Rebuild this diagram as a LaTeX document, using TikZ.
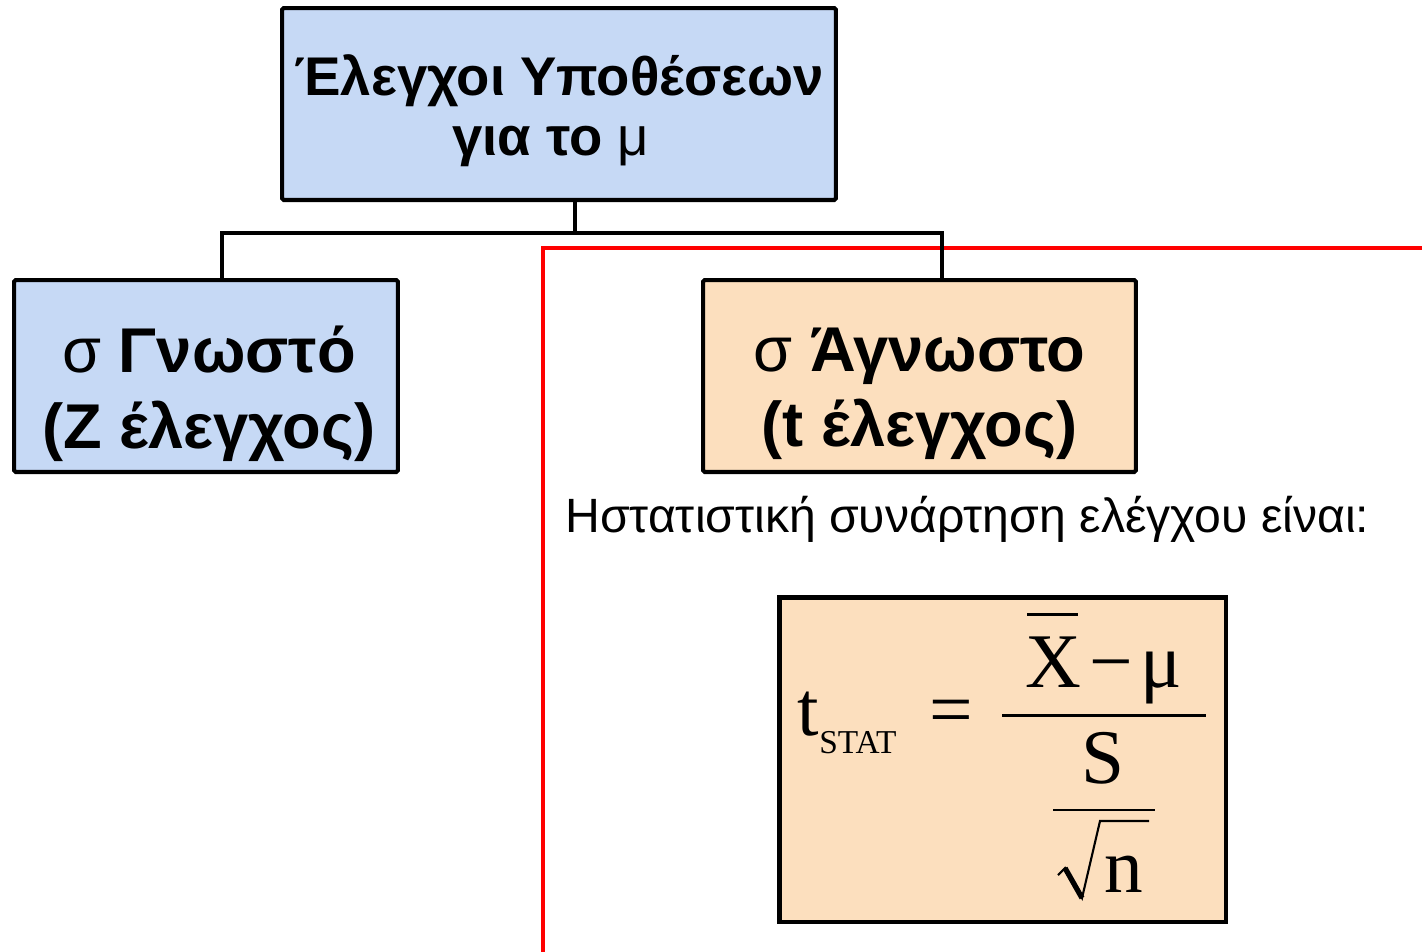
\documentclass[tikz,border=0pt]{standalone}
\usepackage{fontspec}
\setmainfont{Liberation Sans}
\newfontfamily\serifgr{Liberation Serif}
\usetikzlibrary{positioning,calc}
\definecolor{boxblue}{RGB}{198,217,245}
\definecolor{boxpeach}{RGB}{252,223,190}

\begin{document}
\begin{tikzpicture}[
  x=0.02cm, y=-0.02cm,
  box/.style={draw, line width=2.3pt, rounded corners=1pt, inner sep=0pt},
  bluebox/.style={box, fill=boxblue, minimum height=3.84cm},
  peachbox/.style={box, fill=boxpeach, minimum height=3.84cm},
  head/.style={align=center, inner sep=0pt, font=\fontsize{31}{34}\selectfont\bfseries},
  kind/.style={align=center, inner sep=0pt, font=\fontsize{36}{43}\selectfont\bfseries},
  eq/.style={font=\serifgr\fontsize{44}{44}\selectfont, inner sep=0pt},
  sub/.style={font=\serifgr\fontsize{19}{19}\selectfont, inner sep=0pt},
  link/.style={line width=2.3pt},
  bar/.style={line width=1.7pt}
]
\useasboundingbox (0,0) rectangle (1422,951);
% frame round the t-test part runs off the page
\begin{scope}
  \clip (0,0) rectangle (1422,951);
  \draw[red, line width=2.3pt] (543,248) rectangle (1460,990);
\end{scope}

\node[bluebox, minimum width=11.08cm] (hyp) at (559,104) {};
\node[bluebox, minimum width=7.68cm] (known) at (206,376) {};
\node[peachbox, minimum width=8.66cm] (unknown) at (919.5,376) {};
\node[head] (hyptxt) at ($(hyp)+(0,7)$) {Έλεγχοι Υποθέσεων\\για το {\mdseries μ}\hspace*{0.34cm}};
\node[kind] (knowntxt) at ($(known)+(3,18)$) {{\mdseries σ} Γνωστό\\(Ζ έλεγχος)};
\node[kind] (unknowntxt) at ($(unknown)+(0,18)$) {{\mdseries σ} Άγνωστο\\(t έλεγχος)};

\coordinate (fork) at (575,233);
\draw[link] (fork |- hyp.south) -- (fork);
\draw[link] ([xshift=0.32cm]known.north) |- (fork) -| ([xshift=0.45cm]unknown.north);

\node[anchor=base west, inner sep=0pt, font=\fontsize{27.4}{30}\selectfont] (says) at (565,532)
  {Ηστατιστική συνάρτηση ελέγχου είναι:};

% the test statistic
\node[draw, line width=2.8pt, fill=boxpeach, minimum width=8.94cm, minimum height=6.5cm] (fbox) at (1002.5,759.5) {};
\node[eq, anchor=base west] (t) at (797,735) {t};
\node[sub, anchor=base west] (tsub) at (819,753) {STAT};
\node[eq, anchor=base] (equals) at (951,735) {=};
\node[eq, anchor=base] (xbar) at (1053,687) {X};
\node[eq, anchor=base] (minus) at (1111,687) {−};
\node[eq, anchor=base] (mu) at (1161,687) {μ};
\node[eq, anchor=base] (s) at (1103,783) {S};
\node[eq, anchor=base] (n) at (1124,892) {n};
\draw[bar] (1027,614) -- (1078,614);
\draw[bar] (1002,715) -- (1206,715);
\draw[line width=1.2pt] (1053,810) -- (1155,810);
\draw[line width=1.2pt, line join=miter] (1058,875) -- (1065,868) -- (1082,898) -- (1100,821) -- (1149,821);
\draw[line width=3pt] (1065,868) -- (1082,898);
\end{tikzpicture}
\end{document}
